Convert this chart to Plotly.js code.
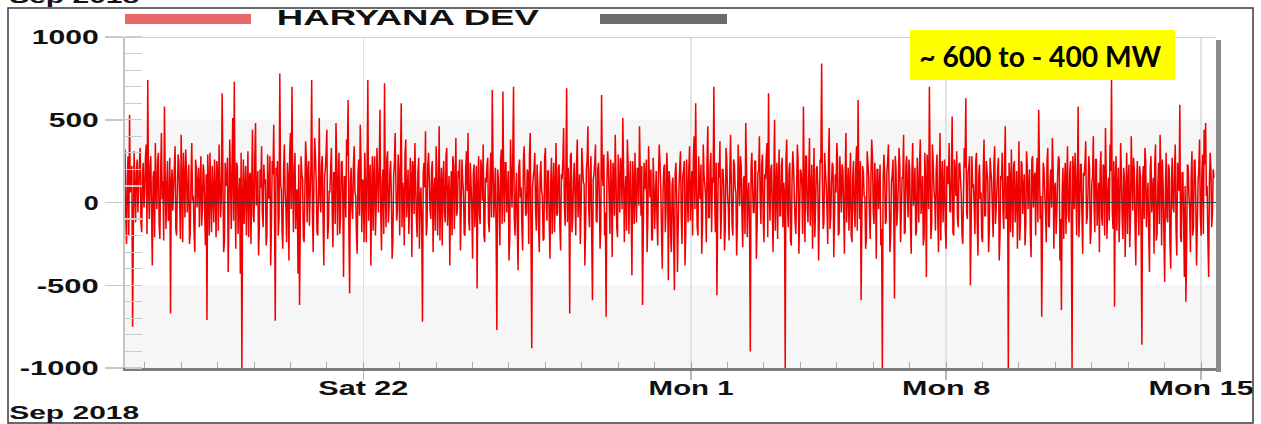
<!DOCTYPE html>
<html>
<head>
<meta charset="utf-8">
<script src="https://cdn.plot.ly/plotly-3.0.1.min.js"></script>
<style>
  html, body { margin: 0; padding: 0; background: #ffffff; }
  #chart { width: 1261px; height: 424px; }
</style>
</head>
<body>
<div id="chart"></div>
<script>
// ---- DATA: HARYANA DEV deviation (MW), half-hourly readings ----
const seriesName = "HARYANA DEV";
const startTime = "2018-09-15T11:00:00";   // first reading
const stepMinutes = 30;

// readings on the hour (:00)
const hourPart1 = [
  320, -250, 280, 530, 150, -750, 310, -120, 260, 90,
  330, -180, 240, 60, 350, 740, -100, 280, -380, 190,
  360, -40, 300, -220, 420, 130, 580, -160, 250, -90,
  -670, 200, 80, 340, -200, 290, 10, 410, -240, 150,
  320, -60, 230, -180, 360, 40, -300, 210, 120, -150,
  280, -40, 190, -260, -710, 130, 300, -180, 70, 260,
  -210, 180, 350, -90, 660, -300, 240, 120, -420, 380,
  -160, 510, 730, -280, 220, 40, -430, -1000, 260, 90,
  -200, 310, 150, -250, 440, -120, 480, 60, -320, 200,
  340, -150, 110, -260, 290, 20, -380, 250, 470, -715,
  160, -200, 780, 80, -280, 350, -30, 240, -350, 420,
  700, -180, 300, 60, -430, -620, 280, 140, -240, 370
];
const hourPart2 = [
  -120, 250, 50, 740, -300, 390, 120, -200, 510, -60,
  280, -380, 200, 440, -150, 60, 330, -270, 180, 480,
  -200, 300, -90, 250, -450, 150, 380, 620, -550, 210,
  -100, 340, 40, -310, 260, 470, -180, 120, 300, -240,
  740, 90, -380, 280, 150, -200, 330, -60, 560, -290,
  200, 720, -150, 310, -40, 250, -340, 160, 420, -110,
  290, -200, 600, 120, -260, 380, 50, -190, 270, -330,
  210, 360, -100, 180, -280, 90, -720, 240, 430, -140,
  300, -50, 200, -300, 150, 340, -200, 460, 80, -260,
  250, -120, 330, 20, -380, 190, 280, -160, 390, -50,
  150, -290, 260, 70, -200, 310, 420, -170, 110, -340,
  230, 40, -520, 280, -130, 190, 350, -240, 120, 270
];
const hourPart3 = [
  -180, 300, 680, -90, 210, -770, 150, -260, 320, 670,
  -120, 240, 60, -350, 380, -30, 700, -200, 180, -410,
  260, 90, -290, 340, -80, 200, -250, 420, -880, 150,
  300, -170, 110, -300, 250, 40, -220, 330, -110, 190,
  -340, 270, 80, -180, 360, -60, 230, -290, 140, 450,
  -140, 690, 210, -670, 300, -90, 240, -200, 380, 60,
  -250, 330, 120, -380, 200, 460, -150, 280, -590, 170,
  350, -120, 240, -280, 650, 100, -200, -690, 310, 20,
  260, -330, 180, 410, -150, 290, -60, 220, 510, -240,
  160, 380, -190, 250, -440, 110, 300, -120, 200, 460,
  -80, -620, 240, 120, -300, 340, 30, -220, 270, -160,
  190, -260, 350, 90, -400, 210, -180, 300, -470, 120
];
const hourPart4 = [
  -300, 150, -530, 240, -420, 80, 310, -250, 190, -380,
  260, -120, 340, 60, -200, 400, 600, -150, 280, 20,
  -310, 350, 110, -240, 460, -90, 300, 150, 700, -180,
  -560, 240, 370, -70, 200, -290, 330, 50, -230, 410,
  -140, 260, 90, -320, 350, -20, 220, -270, 160, 480,
  -210, 120, -900, 300, -60, 250, -340, 180, 400, -130,
  290, -240, 140, 360, 660, -110, 230, -300, 500, 70,
  -220, 320, -80, 270, 120, -1000, 380, -150, 240, -260,
  310, 40, -190, 350, -310, 200, 100, 580, -240, 280,
  -120, 390, 60, -280, 330, -40, 220, -350, 260, 840,
  -160, 300, 110, -250, 450, -90, 240, -330, 170, 360,
  -200, 280, -60, 190, -310, 420, 80, -170, 300, -240
];
const hourPart5 = [
  250, -150, 340, 620, -100, -590, 220, 40, -280, 310,
  160, -220, 380, -60, 240, -340, 200, 90, -260, -1000,
  290, -130, 180, 350, -300, 120, 260, -580, 210, -50,
  330, -240, 150, 410, -180, 280, -90, 200, -310, 360,
  60, -200, 270, -120, 380, 30, -260, 300, -450, 190,
  700, -220, 350, 80, -170, 290, -300, 420, 140, -120,
  260, -280, 200, 360, -60, 520, -200, 170, 310, -150,
  240, 50, -250, 330, 630, -100, 220, -500, 280, 110,
  -190, 300, -320, 230, 60, -240, 380, -80, 190, -300,
  270, 130, -210, 340, -40, 210, -350, 160, 300, -160,
  460, -80, -1000, 150, 320, -210, 250, 20, -280, 370,
  -120, 230, 90, -260, 310, -40, 200, -330, 280, 140
];
const hourPart6 = [
  -200, 270, 560, -100, -690, 240, 60, -240, 330, -150,
  200, 390, -280, 120, -50, 280, -350, -650, 210, 80,
  -190, 340, -120, 250, -1000, 190, 300, -200, 580, -60,
  230, -310, 160, 370, -90, 280, -250, 120, 400, -180,
  260, 30, -300, 310, -140, 220, 450, -220, 150, 350,
  750, -160, -630, 280, 90, -240, 360, -100, 210, -330,
  300, 130, -270, 400, -50, 190, -380, 250, -200, 160,
  -860, 220, 330, -150, 120, -420, 280, 60, -310, 350,
  -190, 240, 410, -260, 100, -480, 300, -120, 200, -400,
  270, -60, 350, -320, 150, 590, -240, 180, -450, -600,
  230, 40, -300, 310, -150, 260, -380, 120, 380, -200,
  290, 440, 480, 100, -450, 300, -150, 200
];

// readings at half past (:30)
const halfPart1 = [
  -80, 140, -200, 60, 220, -150, 90, 180, -60, 240,
  -120, 170, -30, 280, -190, 110, 230, -70, 150, -210,
  80, 250, -140, 190, 20, -230, 160, 90, -110, 270,
  130, -50, 210, -160, 70, 240, -220, 120, 300, -90,
  190, 60, -250, 150, 10, -180, 260, -30, 210, 100,
  -140, 230, -60, 170, 290, -200, 40, 220, -120, 80,
  250, -170, 130, 20, 190, -240, 100, 270, -50, 160,
  210, -110, 60, 240, -190, 150, 300, 30, -130, 220,
  70, -210, 180, 120, -80, 260, -20, 190, -150, 90,
  -60, 230, 140, -200, 40, 280, -120, 170, -30, 210,
  250, -90, 110, -180, 200, 60, -240, 150, 290, -40,
  130, 200, -160, 80, 230, -110, 170, -210, 60, 260
];
const halfPart2 = [
  190, -140, 220, -60, 140, 270, -180, 90, 20, 230,
  -100, 160, 300, -220, 70, 210, -40, 180, -130, 250,
  110, -190, 240, 30, 160, -90, 280, -160, 120, -30,
  220, 60, -200, 170, -80, 250, 140, -240, 90, 200,
  -110, 230, 50, -170, 280, -20, 150, 210, -60, 130,
  -190, 80, 260, -120, 180, 40, -230, 240, 100, -50,
  170, 230, -150, 60, 290, -90, 200, -10, 150, 250,
  -70, 120, -210, 270, 30, -140, 180, 90, -200, 220,
  140, -100, 250, 60, -170, 190, 30, -230, 210, 120,
  -60, 280, -140, 160, 40, -200, 230, 110, -80, 190,
  260, -50, 130, -190, 210, 70, -110, 240, -30, 170,
  -150, 220, 90, -70, 260, 10, -200, 150, 230, -120
];
const halfPart3 = [
  160, -90, 230, 40, -170, 200, -20, 260, -130, 110,
  240, -60, 190, -220, 140, 280, -100, 60, -180, 220,
  30, -150, 250, 120, -60, 180, 290, -210, 90, 200,
  -40, 230, -160, 150, 70, -230, 270, 10, 190, -110,
  120, -190, 240, 60, -80, 210, -140, 170, 250, -20,
  200, -120, 90, 280, -180, 140, 30, 230, -90, 170,
  -50, 220, 110, -160, 260, -30, 180, -200, 140, 240,
  -110, 200, 60, -140, 170, 290, -60, 120, 220, -190,
  90, 240, -80, 160, -210, 130, 270, -40, 190, 60,
  -170, 230, 100, -60, 250, -130, 40, 210, -20, 180,
  220, -150, 80, 260, -90, 140, 200, -230, 110, 30,
  -100, 170, 240, -180, 60, 230, -40, 150, 190, -210
];
const halfPart4 = [
  110, -230, 180, 30, -140, 220, -80, 160, 250, -170,
  60, 210, -110, 190, 280, -40, 140, -200, 90, 230,
  -130, 170, 40, 260, -90, 210, -180, 120, 30, 240,
  -60, 150, -220, 200, 90, -150, 260, -30, 180, 110,
  -200, 230, 60, -120, 170, 280, -70, 140, -190, 220,
  40, -160, 210, 100, -60, 250, -130, 190, 20, 230,
  -100, 170, 270, -210, 80, 200, -40, 150, -170, 240,
  120, -80, 220, -150, 60, 260, -20, 190, -230, 140,
  210, -110, 70, 250, -60, 180, -190, 120, 280, -30,
  160, -140, 230, 50, -210, 200, 90, -70, 240, 140,
  -120, 190, -30, 270, -160, 110, 220, -90, 60, 250,
  -180, 130, 230, -40, 170, -120, 210, 80, -200, 160
];
const halfPart5 = [
  -50, 210, -170, 130, 250, -90, 180, 30, -220, 240,
  -80, 160, 270, -130, 90, 200, -40, 230, -160, 120,
  190, -110, 250, 60, -200, 170, -30, 280, -140, 100,
  230, -60, 150, -190, 220, 40, 260, -120, 180, -20,
  210, -170, 90, 240, -70, 160, -210, 130, 290, -40,
  180, -130, 240, 20, 200, -90, 150, -230, 250, 80,
  -160, 220, 110, -50, 190, -180, 260, 40, -100, 230,
  140, -200, 70, 210, -60, 180, 280, -150, 90, -20,
  240, -120, 160, 20, -210, 200, -80, 250, 120, -170,
  190, -40, 230, -130, 80, 270, -200, 140, -60, 210,
  -100, 160, 240, -180, 50, 220, -120, 190, 30, -230,
  250, -70, 170, -140, 220, 90, -190, 260, -30, 180
];
const halfPart6 = [
  160, -120, 230, 40, -170, 200, -60, 250, -140, 120,
  -30, 220, 90, -190, 170, 260, -100, 60, -220, 240,
  130, -80, 190, -150, 280, -40, 160, 100, -210, 230,
  -70, 180, 240, -130, 60, 210, -180, 150, -20, 260,
  -140, 120, 200, -90, 230, -200, 170, 40, -110, 190,
  -60, 250, 130, -170, 210, -30, 180, -220, 140, 60,
  -190, 230, -80, 160, 270, -150, 110, -40, 220, -210,
  140, -100, 250, 30, -180, 200, -60, 150, 240, -230,
  90, -130, 190, 260, -170, 80, -90, 230, -250, 130,
  -30, 200, -160, 240, 70, -210, 180, -120, 100, -260,
  220, -40, 160, -200, 250, 30, -150, 210, -80, 170,
  -190, 230, 40, -230, 110, 200, -60, 150
];

const yTickVals = [-1000, -500, 0, 500, 1000];
const yTickText = ["-1000", "-500", "0", "500", "1000"];
const xTickVals = ["2018-09-22", "2018-10-01", "2018-10-08", "2018-10-15"];
const xTickText = ["Sat 22", "Mon 1", "Mon 8", "Mon 15"];
const xRange = ["2018-09-15 11:00", "2018-10-15 09:50"];
const bottomLabel = "Sep 2018";
const noteText = "~ 600 to - 400 MW";

// ---- build series (interleave :00 and :30 readings) ----
const onHour = [].concat(hourPart1, hourPart2, hourPart3, hourPart4, hourPart5, hourPart6);
const halfPast = [].concat(halfPart1, halfPart2, halfPart3, halfPart4, halfPart5, halfPart6);
const dev = [];
onHour.forEach((v, i) => { dev.push(v); if (i < halfPast.length) dev.push(halfPast[i]); });

function pad(n){ return (n < 10 ? "0" : "") + n; }
const t0 = new Date(startTime + "Z").getTime();
const times = dev.map((_, i) => {
  const d = new Date(t0 + i * stepMinutes * 60000);
  return d.getUTCFullYear() + "-" + pad(d.getUTCMonth()+1) + "-" + pad(d.getUTCDate()) +
         " " + pad(d.getUTCHours()) + ":" + pad(d.getUTCMinutes());
});

// pixel -> paper helpers (plot area: x 125..1216, y 37..368)
const L = 125, R = 1216, T = 37, B = 368;
const px = v => (v - L) / (R - L);
const py = v => (B - v) / (B - T);

const boldFont = {family: "Liberation Sans, Arial, sans-serif", weight: "bold", color: "#111"};

const trace = {
  type: "scatter", mode: "lines", x: times, y: dev, name: seriesName,
  line: {color: "rgb(240,0,0)", width: 1.5, simplify: false},
  hoverinfo: "skip", showlegend: false
};

const layout = {
  width: 1261, height: 424,
  margin: {l: L, r: 1261 - R, t: T, b: 424 - B, pad: 0},
  paper_bgcolor: "#ffffff", plot_bgcolor: "#ffffff",
  showlegend: false,
  xaxis: {
    type: "date", range: xRange,
    tickmode: "array", tickvals: xTickVals, ticktext: xTickText,
    ticks: "outside", ticklen: 9, tickcolor: "#b8b8b8", tickwidth: 1.5,
    ticklabelstandoff: -10,
    showgrid: true, gridcolor: "#e2e2e2", gridwidth: 1.5,
    showline: true, linecolor: "#7c7c7c", linewidth: 3,
    zeroline: false,
    tickfont: Object.assign({size: 21}, boldFont),
    minor: {dtick: 86400000, ticks: "inside", ticklen: 6, tickcolor: "#a8a8a8", tickwidth: 1, showgrid: false},
    fixedrange: true
  },
  yaxis: {
    range: [-1000, 1000],
    tickmode: "array", tickvals: yTickVals, ticktext: yTickText,
    ticks: "outside", ticklen: 18, tickcolor: "#c8c8c8", tickwidth: 1.5,
    ticklabelstandoff: 2,
    showgrid: false, zeroline: false,
    showline: true, linecolor: "#c4c4c4", linewidth: 2,
    tickfont: Object.assign({size: 21}, boldFont),
    minor: {dtick: 100, ticks: "inside", ticklen: 17, tickcolor: "#cccccc", tickwidth: 1.2, showgrid: false},
    fixedrange: true
  },
  shapes: [
    {type: "rect", xref: "paper", yref: "y", x0: 0, x1: 1, y0: 0, y1: 500, fillcolor: "#f6f6f6", line: {width: 0}, layer: "below"},
    {type: "rect", xref: "paper", yref: "y", x0: 0, x1: 1, y0: -1000, y1: -500, fillcolor: "#f6f6f6", line: {width: 0}, layer: "below"},
    {type: "line", xref: "paper", yref: "y", x0: 0, x1: 1, y0: 1000, y1: 1000, line: {color: "#cfcfcf", width: 2}, layer: "above"},
    {type: "line", xref: "paper", yref: "y", x0: 0, x1: 1, y0: 0, y1: 0, line: {color: "#3a3a3a", width: 1}, layer: "above"},
    // right edge shadow
    {type: "rect", xref: "paper", yref: "paper", x0: px(1216), x1: px(1221), y0: py(372), y1: py(40), fillcolor: "#8c8c8c", line: {width: 0}, layer: "above"},
    // note box
    {type: "rect", xref: "paper", yref: "paper", x0: px(910), x1: px(1175), y0: py(80), y1: py(30), fillcolor: "#ffff00", line: {width: 0}, layer: "above"},
    // legend swatches
    {type: "rect", xref: "paper", yref: "paper", x0: px(125), x1: px(251), y0: py(24), y1: py(14), fillcolor: "#e96868", line: {width: 0}, layer: "above"},
    {type: "rect", xref: "paper", yref: "paper", x0: px(600), x1: px(727), y0: py(24), y1: py(14), fillcolor: "#6c6c6c", line: {width: 0}, layer: "above"},
    // outer frame
    {type: "rect", xref: "paper", yref: "paper", x0: px(8), x1: px(1253), y0: py(423), y1: py(8), fillcolor: "rgba(0,0,0,0)", line: {color: "#3a3a3a", width: 1.5}, layer: "above"}
  ],
  annotations: [
    {xref: "paper", yref: "paper", x: px(408), y: py(18), xanchor: "center", yanchor: "middle", showarrow: false,
     text: seriesName, font: Object.assign({size: 22}, boldFont)},
    {xref: "paper", yref: "paper", x: px(74), y: py(412), xanchor: "center", yanchor: "middle", showarrow: false,
     text: bottomLabel, font: Object.assign({size: 19}, boldFont)},
    {xref: "paper", yref: "paper", x: px(74), y: py(-4), xanchor: "center", yanchor: "middle", showarrow: false,
     text: bottomLabel, font: Object.assign({size: 19}, boldFont)},
    {xref: "paper", yref: "paper", x: px(1040), y: py(56), xanchor: "center", yanchor: "middle", showarrow: false,
     text: noteText, font: {family: "Lato, Open Sans, sans-serif", weight: "bold", size: 28, color: "#000"}}
  ]
};

// target rendered widths (px) of the horizontally stretched source lettering
const textWidths = {
  "1000": 67, "500": 50, "0": 15, "-500": 62, "-1000": 79,
  "Sat 22": 90, "Mon 1": 85, "Mon 8": 88, "Mon 15": 105,
  "HARYANA DEV": 262, "Sep 2018": 130, "~ 600 to - 400 MW": 242
};

Plotly.newPlot("chart", [trace], layout, {staticPlot: true, displayModeBar: false}).then(() => {
  document.querySelectorAll("#chart text").forEach(el => {
    const s = el.textContent;
    if (Object.prototype.hasOwnProperty.call(textWidths, s)) {
      el.setAttribute("textLength", textWidths[s]);
      el.setAttribute("lengthAdjust", "spacingAndGlyphs");
    }
  });
});
</script>
</body>
</html>
